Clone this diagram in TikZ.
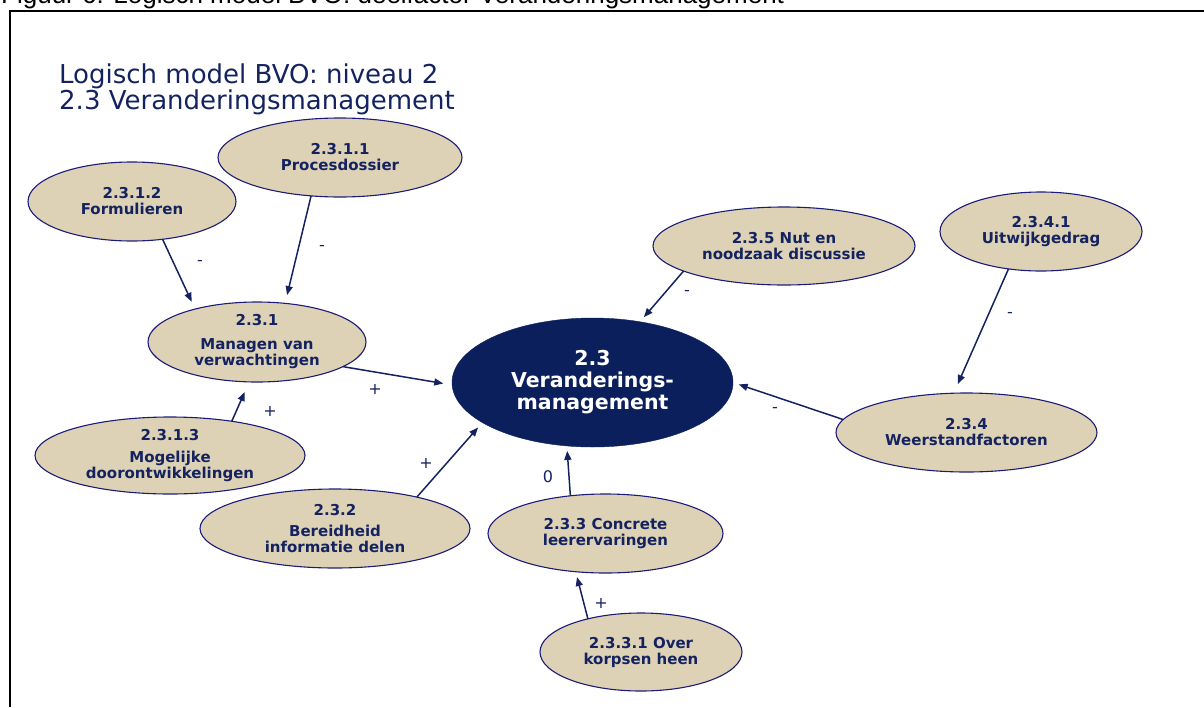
\documentclass[tikz,border=0pt]{standalone}
\usepackage{fontspec}
\setmainfont{DejaVu Sans}
\newfontfamily\capfont{Liberation Sans}
\usetikzlibrary{shapes.geometric,arrows.meta}
\definecolor{navytext}{HTML}{14235F}
\definecolor{corefill}{HTML}{0B1F5C}
\definecolor{beige}{HTML}{DDD2B6}
\definecolor{rimblue}{HTML}{1C1C78}

\begin{document}
\begin{tikzpicture}[x=1pt,y=-1pt,
  factor/.style={ellipse, draw=rimblue, line width=1.1pt, fill=beige, text=navytext,
    font=\bfseries\fontsize{15}{16}\selectfont, align=center, inner sep=0pt, outer sep=0pt},
  core/.style={ellipse, draw=corefill, fill=corefill, text=white,
    font=\bfseries\fontsize{20.5}{22}\selectfont, align=center, inner sep=0pt, outer sep=0pt},
  link/.style={draw=navytext, line width=1.5pt, -{Triangle[length=9pt,width=7pt]}},
  sign/.style={text=navytext, font=\fontsize{16}{16}\selectfont, inner sep=0pt}
]
\useasboundingbox (0,0) rectangle (1204,707);

% caption above the frame and the frame itself
\node[anchor=base west, inner sep=0pt, font=\capfont\fontsize{26}{26}\selectfont] (caption) at (1,3)
  {Figuur 6: Logisch model BVO: deelfactor Veranderingsmanagement};
\draw[line width=2.5pt, line join=miter] (1204,10.8) -- (10,10.8) -- (10,707);

% title
\node[anchor=base west, inner sep=0pt, text=navytext, font=\fontsize{26}{26}\selectfont] (title1) at (59,83) {Logisch model BVO: niveau 2};
\node[anchor=base west, inner sep=0pt, text=navytext, font=\fontsize{26}{26}\selectfont] (title2) at (59,109) {2.3 Veranderingsmanagement};

% factors
\node[core, minimum width=281pt, minimum height=129pt] (C) at (592.5,382.5) {2.3\\Veranderings-\\management};
\node[factor, minimum width=244pt, minimum height=79pt] (P) at (340,157.5) {2.3.1.1\\Procesdossier};
\node[factor, minimum width=208pt, minimum height=79pt] (F) at (132,201.5) {2.3.1.2\\Formulieren};
\node[factor, minimum width=218pt, minimum height=80pt] (M) at (257,342) {2.3.1\\[8pt]Managen van\\verwachtingen};
\node[factor, minimum width=270pt, minimum height=77pt] (G) at (170,455.5) {2.3.1.3\\[6pt]Mogelijke\\doorontwikkelingen};
\node[factor, minimum width=270pt, minimum height=79pt] (B) at (335,528.5) {2.3.2\\[5pt]Bereidheid\\informatie delen};
\node[factor, minimum width=262pt, minimum height=78pt] (N) at (784,246) {2.3.5 Nut en\\noodzaak discussie};
\node[factor, minimum width=202pt, minimum height=79pt] (U) at (1041,231.5) {2.3.4.1\\Uitwijkgedrag};
\node[factor, minimum width=261pt, minimum height=79pt] (W) at (966.5,432.5) {2.3.4\\Weerstandfactoren};
\node[factor, minimum width=235pt, minimum height=79pt] (K) at (605.5,533.5) {2.3.3 Concrete\\leerervaringen};
\node[factor, minimum width=202pt, minimum height=78pt] (O) at (641,652) {2.3.3.1 Over\\korpsen heen};

% influences
\draw[link, shorten >=8pt]   (F.-51)    -- (M.152);
\draw[link, shorten >=8.5pt] (P.-127)   -- (M.54);
\draw[link, shorten >=9pt]   (M.-16)    -- (C.181);
\draw[link, shorten >=11pt]  (G.29)     -- (M.-101);
\draw[link, shorten >=6.5pt] (B.21)     -- (C.200);
\draw[link, shorten >=5pt]   (K.133.7)  -- (C.-112.3);
\draw[link, shorten >=5.5pt] (O.148)    -- (K.-128.5);
\draw[link, shorten >=6pt]   (N.-166)   -- (C.52);
\draw[link, shorten >=6pt]   (W.174)    -- (C.0);
\draw[link, shorten >=10pt]  (U.-131)   -- (W.108);

% signs of the influences
\node[sign] (s1)  at (200,263) {-};
\node[sign] (s2)  at (322,248) {-};
\node[sign] (s3)  at (375,389) {+};
\node[sign] (s4)  at (270,411) {+};
\node[sign] (s5)  at (426,463) {+};
\node[sign] (s6)  at (548,477) {0};
\node[sign] (s7)  at (601,603) {+};
\node[sign] (s8)  at (687,293) {-};
\node[sign] (s9)  at (775,410) {-};
\node[sign] (s10) at (1010,315) {-};
\end{tikzpicture}
\end{document}
